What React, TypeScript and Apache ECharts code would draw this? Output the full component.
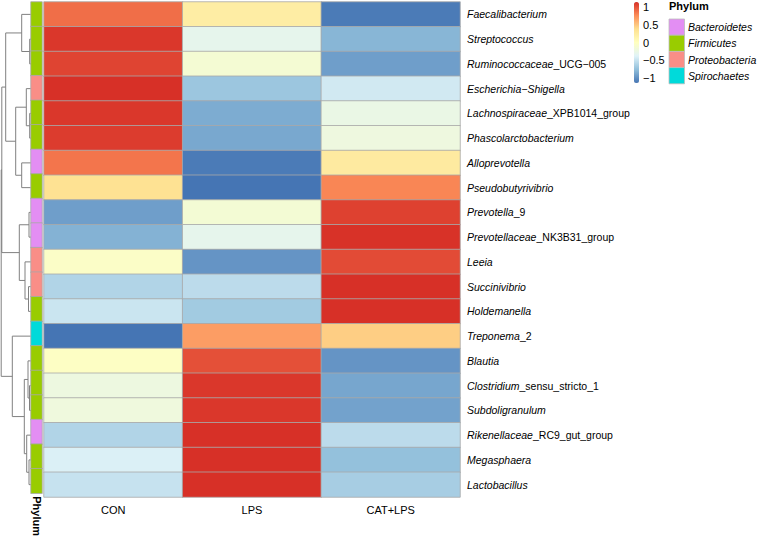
import React, { useEffect, useRef } from "react";
import * as echarts from "echarts";

// ---------- data ----------
const columns = ["CON", "LPS", "CAT+LPS"];

const genera = [
  "Faecalibacterium",
  "Streptococcus",
  "Ruminococcaceae_UCG−005",
  "Escherichia−Shigella",
  "Lachnospiraceae_XPB1014_group",
  "Phascolarctobacterium",
  "Alloprevotella",
  "Pseudobutyrivibrio",
  "Prevotella_9",
  "Prevotellaceae_NK3B31_group",
  "Leeia",
  "Succinivibrio",
  "Holdemanella",
  "Treponema_2",
  "Blautia",
  "Clostridium_sensu_stricto_1",
  "Subdoligranulum",
  "Rikenellaceae_RC9_gut_group",
  "Megasphaera",
  "Lactobacillus",
];

const phylumNames = ["Bacteroidetes", "Firmicutes", "Proteobacteria", "Spirochaetes"];
const phylumColors = ["#E38EF3", "#99CC00", "#F98E87", "#00DADA"];

const generaPhylum = [
  "Firmicutes", "Firmicutes", "Firmicutes", "Proteobacteria", "Firmicutes",
  "Firmicutes", "Bacteroidetes", "Firmicutes", "Bacteroidetes", "Bacteroidetes",
  "Proteobacteria", "Proteobacteria", "Firmicutes", "Spirochaetes", "Firmicutes",
  "Firmicutes", "Firmicutes", "Bacteroidetes", "Firmicutes", "Firmicutes",
];

const valuesCON = [0.88, 1.1, 1.05, 1.15, 1.1, 1.08, 0.85, 0.35, -0.92, -0.82, -0.05, -0.6, -0.48, -1.14, -0.03, -0.22, -0.2, -0.6, -0.4, -0.5];
const valuesLPS = [0.22, -0.3, -0.13, -0.7, -0.85, -0.87, -1.1, -1.13, -0.14, -0.3, -0.97, -0.55, -0.67, 0.68, 1.0, 1.1, 1.1, 1.15, 1.14, 1.15];
const valuesCATLPS = [-1.1, -0.8, -0.92, -0.45, -0.25, -0.21, 0.25, 0.78, 1.06, 1.12, 1.02, 1.15, 1.15, 0.46, -0.97, -0.88, -0.9, -0.55, -0.74, -0.65];

const scaleTicks = [-1, -0.5, 0, 0.5, 1];
const scaleMin = -1.13;
const scaleMax = 1.13;
const rampColors = ["#4575B4", "#91BFDB", "#E0F3F8", "#FFFFBF", "#FEE090", "#FC8D59", "#D73027"];

// row dendrogram, hclust style: negative = leaf (1-based display order), positive = merge step
const dendroLeft = [-2, -5, -9, -12, -16, -19, -1, -4, -7, 8, 7, -11, 3, -15, -18, 14, -14, 11, 18];
const dendroRight = [-3, -6, -10, -13, -17, -20, 1, 2, -8, 9, 10, 4, 12, 5, 6, 15, 16, 13, 17];
const dendroHeight = [0.8, 0.8, 1.5, 2.0, 1.0, 1.5, 8.8, 4.2, 8.8, 14.8, 24.8, 5.5, 11.2, 2.5, 3.8, 6.2, 18.2, 28.7, 29.3];
const dendroMax = 30.5;

// ---------- helpers ----------
const seriesByColumn = [valuesCON, valuesLPS, valuesCATLPS];

function buildHeatData() {
  const out: number[][] = [];
  seriesByColumn.forEach((vals, c) => {
    vals.forEach((v, r) => out.push([c, r, v]));
  });
  return out;
}

function buildDendroData() {
  const pos: number[] = [];
  const hgt: number[] = [];
  const data: number[][] = [];
  const get = (id: number) => (id < 0 ? [-id - 1, 0] : [pos[id - 1], hgt[id - 1]]);
  for (let i = 0; i < dendroLeft.length; i++) {
    const [y1, h1] = get(dendroLeft[i]);
    const [y2, h2] = get(dendroRight[i]);
    const h = dendroHeight[i];
    pos.push((y1 + y2) / 2);
    hgt.push(h);
    data.push([h, y1, y2, h1, h2]);
  }
  return data;
}

function fmtLabel(name: string) {
  const k = name.indexOf("_");
  if (k < 0) return `{i|${name}}`;
  return `{i|${name.slice(0, k)}}{n|${name.slice(k)}}`;
}

const FONT = "Liberation Sans, Arial, Helvetica, sans-serif";

export default function App() {
  const ref = useRef<HTMLDivElement>(null);
  useEffect(() => {
    if (!ref.current) return;
    const chart = echarts.init(ref.current, undefined, { renderer: "svg" });
    const rowIdx = genera.map((_, i) => i);

    const legendGraphics: any[] = [
      {
        type: "text",
        left: 669,
        top: 0,
        style: { text: "Phylum", fontSize: 11, fontWeight: "bold", fill: "#000", fontFamily: FONT },
      },
    ];
    phylumNames.forEach((p, i) => {
      legendGraphics.push({
        type: "rect",
        shape: { x: 669, y: 19 + 16.2 * i, width: 15.5, height: 16.2 },
        style: { fill: phylumColors[i], stroke: "#bdbdbd", lineWidth: 0.8 },
      });
      legendGraphics.push({
        type: "text",
        x: 688,
        y: 19 + 16.2 * i + 8.1,
        style: {
          text: p,
          fontSize: 10.5,
          fontStyle: "italic",
          fill: "#000",
          fontFamily: FONT,
          verticalAlign: "middle",
        },
      });
    });

    const option: any = {
      animation: false,
      textStyle: { fontFamily: FONT },
      grid: [
        { left: 44, top: 2, width: 416, height: 495 },
        { left: 31, top: 2, width: 11, height: 495 },
        { left: 0, top: 2, width: 30.5, height: 495 },
        { left: 634, top: 2, width: 5, height: 81 },
      ],
      xAxis: [
        {
          type: "category",
          gridIndex: 0,
          data: columns,
          position: "bottom",
          axisLine: { show: false },
          axisTick: { show: false },
          splitLine: { show: false },
          axisLabel: { fontSize: 11, color: "#000", margin: 7 },
        },
        {
          type: "category",
          gridIndex: 1,
          data: ["Phylum"],
          axisLine: { show: false },
          axisTick: { show: false },
          axisLabel: { rotate: -90, fontSize: 11, fontWeight: "bold", color: "#000", margin: 3 },
        },
        { type: "value", gridIndex: 2, min: 0, max: dendroMax, inverse: true, show: false },
        { type: "category", gridIndex: 3, data: [""], show: false },
      ],
      yAxis: [
        {
          type: "category",
          gridIndex: 0,
          data: genera,
          inverse: true,
          position: "right",
          axisLine: { show: false },
          axisTick: { show: false },
          splitLine: { show: false },
          axisLabel: {
            margin: 7,
            fontSize: 10.5,
            color: "#000",
            formatter: (v: string) => fmtLabel(v),
            rich: {
              i: { fontStyle: "italic", fontSize: 10.5, color: "#000", fontFamily: FONT },
              n: { fontStyle: "normal", fontSize: 10.5, color: "#000", fontFamily: FONT },
            },
          },
        },
        { type: "category", gridIndex: 1, data: genera, inverse: true, show: false },
        { type: "value", gridIndex: 2, min: -0.5, max: genera.length - 0.5, inverse: true, show: false },
        {
          type: "value",
          gridIndex: 3,
          min: scaleMin,
          max: scaleMax,
          position: "right",
          axisLine: { show: false },
          axisTick: { show: false },
          splitLine: { show: false },
          axisLabel: {
            customValues: scaleTicks,
            fontSize: 11,
            color: "#000",
            margin: 4,
            formatter: (v: number) => (v < 0 ? "\u2212" + String(Math.abs(v)) : String(v)),
          },
        },
      ],
      visualMap: [
        {
          type: "continuous",
          seriesIndex: 0,
          min: scaleMin,
          max: scaleMax,
          calculable: false,
          orient: "vertical",
          left: 634,
          top: 2,
          itemWidth: 5,
          itemHeight: 81,
          padding: 0,
          inRange: { color: rampColors },
          hoverLink: false,
        },
        {
          type: "piecewise",
          seriesIndex: 1,
          show: false,
          pieces: phylumNames.map((p, i) => ({ value: i, color: phylumColors[i] })),
        },
      ],
      series: [
        {
          type: "heatmap",
          xAxisIndex: 0,
          yAxisIndex: 0,
          data: buildHeatData(),
          itemStyle: { borderColor: "#a8a8a8", borderWidth: 0.8 },
          emphasis: { disabled: true },
        },
        {
          type: "heatmap",
          xAxisIndex: 1,
          yAxisIndex: 1,
          data: rowIdx.map((r) => [0, r, phylumNames.indexOf(generaPhylum[r])]),
          itemStyle: { borderColor: "#a8a8a8", borderWidth: 0.8 },
          emphasis: { disabled: true },
        },
        {
          type: "custom",
          xAxisIndex: 2,
          yAxisIndex: 2,
          data: buildDendroData(),
          encode: { x: [0, 3, 4], y: [1, 2] },
          renderItem: (params: any, api: any) => {
            const h = api.value(0);
            const y1 = api.value(1);
            const y2 = api.value(2);
            const h1 = api.value(3);
            const h2 = api.value(4);
            return {
              type: "polyline",
              shape: {
                points: [api.coord([h1, y1]), api.coord([h, y1]), api.coord([h, y2]), api.coord([h2, y2])],
              },
              style: { stroke: "#808080", lineWidth: 1, fill: "none" },
            };
          },
        },
      ],
      graphic: legendGraphics,
    };
    chart.setOption(option);
    return () => chart.dispose();
  }, []);
  return <div ref={ref} style={{ position: "absolute", left: 0, top: 0, width: 760, height: 539 }} />;
}
